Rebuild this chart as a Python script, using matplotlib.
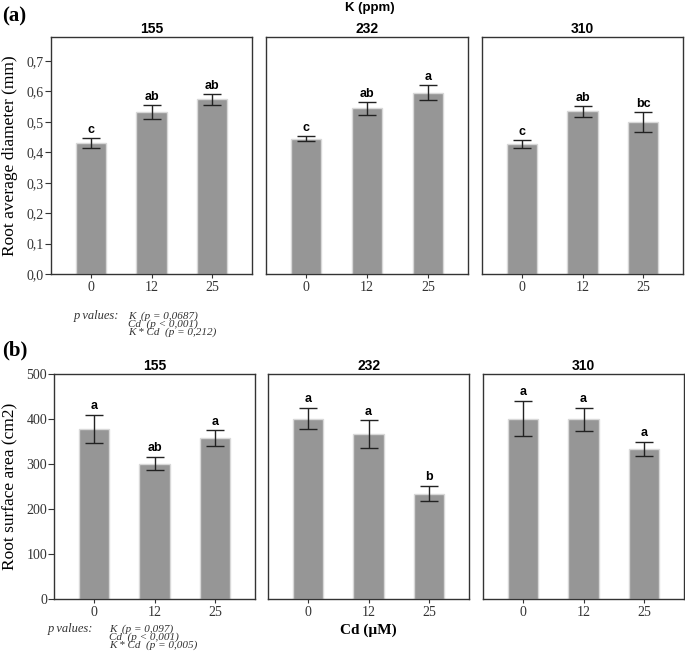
import matplotlib.pyplot as plt
import numpy as np

# data
k_levels = ['155', '232', '310']
cd_levels = ['0', '12', '25']

diam_mean = [[0.43, 0.533, 0.574],
             [0.445, 0.545, 0.596],
             [0.428, 0.535, 0.50]]
diam_err = [[0.016, 0.022, 0.019],
            [0.008, 0.021, 0.025],
            [0.014, 0.018, 0.033]]
diam_letters = [['c', 'ab', 'ab'],
                ['c', 'ab', 'a'],
                ['c', 'ab', 'bc']]

area_mean = [[378, 301, 357],
             [401, 366, 234],
             [401, 399, 333]]
area_err = [[31, 15, 18],
            [24, 31, 17],
            [39, 25, 16]]
area_letters = [['a', 'ab', 'a'],
                ['a', 'a', 'b'],
                ['a', 'a', 'a']]

pvals_a = ['K  (p = 0,0687)', 'Cd  (p < 0,001)', 'K * Cd  (p = 0,212)']
pvals_b = ['K  (p = 0,097)', 'Cd  (p < 0,001)', 'K * Cd  (p = 0,005)']

W, H = 685, 655
fig = plt.figure(figsize=(W / 100, H / 100), dpi=100)

serif = 'Liberation Serif'
sans = 'Liberation Sans'
bar_col = '#969696'
edge_col = '#d8d8d8'
frame_col = '#333333'


def add_ax(x0, x1, ytop, ybot):
    return fig.add_axes([x0 / W, 1 - ybot / H, (x1 - x0) / W, (ybot - ytop) / H])


def draw_row(lefts, rights, ytop, ybot, means, errs, letters, ylim, yticks, ylabels, ylab, off):
    axes = []
    for i in range(3):
        ax = add_ax(lefts[i], rights[i], ytop, ybot)
        x = np.arange(3)
        ax.bar(x, means[i], width=0.5, color=bar_col, edgecolor=edge_col, linewidth=1, zorder=2)
        ax.errorbar(x, means[i], yerr=errs[i], fmt='none', ecolor='#222222',
                    elinewidth=1, capsize=6.5, capthick=1, zorder=3)
        for j in range(3):
            ax.text(x[j], means[i][j] + errs[i][j] + off, letters[i][j],
                    ha='center', va='bottom', fontsize=9, fontweight='bold', family=sans)
        ax.set_xlim(-0.66, 2.66)
        ax.set_ylim(*ylim)
        ax.set_xticks(x)
        ax.set_xticklabels(cd_levels, family=serif, fontsize=10, color='#333333')
        ax.tick_params(axis='x', length=3, color=frame_col, pad=2)
        for s in ax.spines.values():
            s.set_color(frame_col)
            s.set_linewidth(1)
        if i == 0:
            ax.set_yticks(yticks)
            ax.set_yticklabels(ylabels, family=serif, fontsize=10, color='#333333')
            ax.tick_params(axis='y', length=4, color=frame_col, pad=1)
            ax.set_ylabel(ylab, family=serif, fontsize=12.5, labelpad=6)
        else:
            ax.set_yticks([])
        ax.set_title(k_levels[i], fontsize=10, fontweight='bold', family=sans, pad=3)
        axes.append(ax)
    return axes


yt_a = [0, 0.1, 0.2, 0.3, 0.4, 0.5, 0.6, 0.7]
draw_row([51, 266, 482], [252, 468, 683], 37, 274, diam_mean, diam_err, diam_letters,
         (0, 0.779), yt_a, [('%.1f' % v).replace('.', ',') for v in yt_a],
         'Root average diameter (mm)', 0.006)

yt_b = [0, 100, 200, 300, 400, 500]
draw_row([54, 268, 483], [255, 469, 684], 374, 599, area_mean, area_err, area_letters,
         (0, 500), yt_b, [str(v) for v in yt_b],
         'Root surface area (cm2)', 6)

fig.text(2 / W, 1 - 16 / H, '(a)', family=serif, fontsize=15, fontweight='bold', va='center')
fig.text(2 / W, 1 - 350 / H, '(b)', family=serif, fontsize=15, fontweight='bold', va='center')
fig.text(370 / W, 1 - 8 / H, 'K (ppm)', family=sans, fontsize=9.5, fontweight='bold',
         ha='center', va='center')
fig.text(368 / W, 1 - 630 / H, 'Cd (\u00b5M)', family=serif, fontsize=11, fontweight='bold',
         ha='center', va='center')

# p values blocks
fig.text(74 / W, 1 - 316 / H, 'p values:', family=serif, style='italic', fontsize=9,
         va='center', color='#333333')
fig.text(128 / W, 1 - 311 / H, '\n'.join(pvals_a), family=serif, style='italic',
         fontsize=8, va='top', linespacing=0.78, color='#333333')

fig.text(48 / W, 1 - 629 / H, 'p values:', family=serif, style='italic', fontsize=9,
         va='center', color='#333333')
fig.text(109 / W, 1 - 624 / H, '\n'.join(pvals_b), family=serif, style='italic',
         fontsize=8, va='top', linespacing=0.82, color='#333333')

fig.savefig('out.png', dpi=100)
